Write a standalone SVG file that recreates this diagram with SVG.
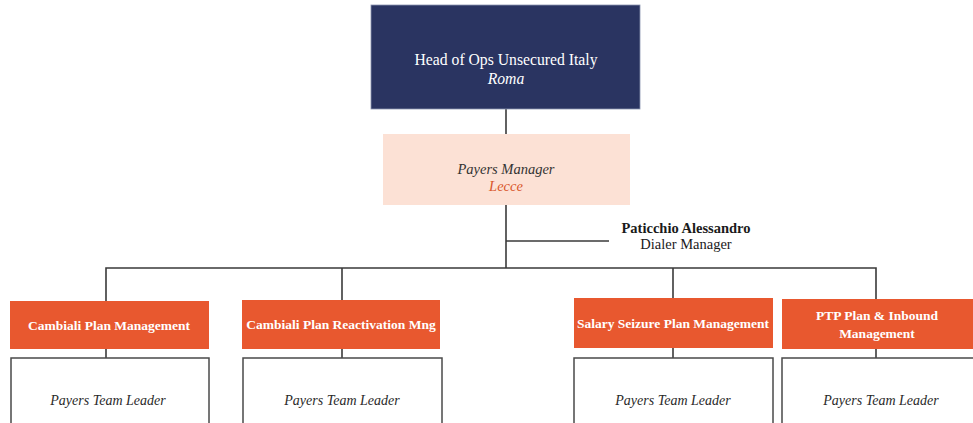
<svg xmlns="http://www.w3.org/2000/svg" width="973" height="423" viewBox="0 0 973 423">
<style>
text{font-family:"Liberation Serif","Times New Roman",serif;text-anchor:middle}
.conn{stroke:#3a3a3a;stroke-width:1.6;fill:none}
.dept rect{fill:#E8582F}
.dept text{fill:#ffffff;font-weight:bold;font-size:13.5px}
.tl rect{fill:#ffffff;stroke:#4a4a4a;stroke-width:1.5}
.tl text{fill:#2a2a2a;font-style:italic;font-size:14px}
</style>
<rect width="973" height="423" fill="#ffffff"/>
<g id="connectors">
<line class="conn" x1="506" y1="109" x2="506" y2="134"/>
<line class="conn" x1="506" y1="205" x2="506" y2="268"/>
<line class="conn" x1="506" y1="241" x2="609" y2="241"/>
<polyline class="conn" points="106,301 106,268 876,268 876,300"/>
<line class="conn" x1="342" y1="268" x2="342" y2="300"/>
<line class="conn" x1="673" y1="268" x2="673" y2="298"/>
<line class="conn" x1="106" y1="349" x2="106" y2="358"/>
<line class="conn" x1="342" y1="349" x2="342" y2="358"/>
<line class="conn" x1="673" y1="348" x2="673" y2="358"/>
<line class="conn" x1="876" y1="349" x2="876" y2="358"/>
</g>
<g id="head">
<rect x="371" y="5" width="269" height="104" fill="#2A3461" stroke="#8a93b0" stroke-width="0.8"/>
<text x="506" y="65" fill="#ffffff" font-size="15.7">Head of Ops Unsecured Italy</text>
<text x="506" y="84" fill="#ffffff" font-size="15.7" font-style="italic">Roma</text>
</g>
<g id="payers-manager">
<rect x="383" y="134" width="247" height="71" fill="#FCE1D5"/>
<text x="506" y="174" fill="#333333" font-size="14.5" font-style="italic">Payers Manager</text>
<text x="506" y="191" fill="#D9572B" font-size="14.5" font-style="italic">Lecce</text>
</g>
<g id="dialer-manager">
<text x="686" y="233" fill="#1a1a1a" font-size="14.5" font-weight="bold">Paticchio Alessandro</text>
<text x="686" y="249" fill="#1a1a1a" font-size="14.5">Dialer Manager</text>
</g>
<g id="dept1" class="dept">
<rect x="10" y="301" width="199" height="48"/>
<text x="109" y="330">Cambiali Plan Management</text>
</g>
<g id="dept2" class="dept">
<rect x="242" y="300" width="198" height="49"/>
<text x="341" y="329">Cambiali Plan Reactivation Mng</text>
</g>
<g id="dept3" class="dept">
<rect x="574" y="298" width="199" height="50"/>
<text x="673" y="328">Salary Seizure Plan Management</text>
</g>
<g id="dept4" class="dept">
<rect x="782" y="299" width="193" height="50"/>
<text x="877" y="320">PTP Plan &amp; Inbound</text>
<text x="877" y="338">Management</text>
</g>
<g id="tl1" class="tl">
<rect x="11" y="358" width="198" height="70"/>
<text x="108" y="405">Payers Team Leader</text>
</g>
<g id="tl2" class="tl">
<rect x="243" y="358" width="199" height="70"/>
<text x="342" y="405">Payers Team Leader</text>
</g>
<g id="tl3" class="tl">
<rect x="574" y="358" width="199" height="70"/>
<text x="673" y="405">Payers Team Leader</text>
</g>
<g id="tl4" class="tl">
<rect x="782" y="358" width="195" height="70"/>
<text x="881" y="405">Payers Team Leader</text>
</g>
</svg>
